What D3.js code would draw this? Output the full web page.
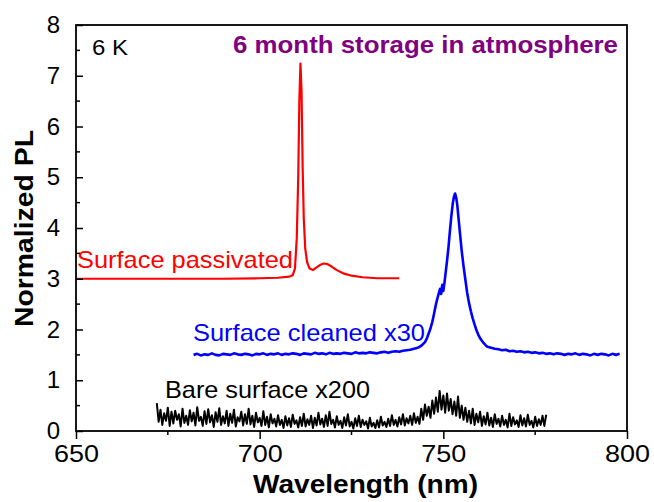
<!DOCTYPE html>
<html>
<head>
<meta charset="utf-8">
<script src="https://cdn.jsdelivr.net/npm/d3@7"></script>
<style>
    body { margin: 0; background: #fff; }
    text { font-family: "Liberation Sans", Arial, sans-serif; }
</style>
</head>
<body>
<div class="container"></div>
<script>
// surface passivated (red)
const redWl = [650, 660, 670, 680, 690, 700, 705, 708, 709, 709.6, 710.1, 710.5, 710.8, 711.1, 711.4, 711.7, 712.0, 712.4, 712.9, 713.6, 714.5, 715.4, 716.4, 717.4, 718.4, 719.6, 721, 723, 725, 728, 732, 738];
const redPL = [3.00, 3.00, 3.00, 3.00, 3.00, 3.01, 3.02, 3.04, 3.07, 3.2, 3.8, 5.0, 6.5, 7.24, 6.7, 5.2, 4.2, 3.6, 3.33, 3.2, 3.17, 3.22, 3.27, 3.30, 3.29, 3.24, 3.17, 3.1, 3.06, 3.03, 3.01, 3.01];

// surface cleaned x30 (blue)
const blueWl = [682, 683, 684, 685, 686, 687, 688, 689, 690, 691, 692, 693, 694, 695, 696, 697, 698, 699, 700, 701, 702, 703, 704, 705, 706, 707, 708, 709, 710, 711, 712, 713, 714, 715, 716, 717, 718, 719, 720, 721, 722, 723, 724, 725, 726, 727, 728, 729, 730, 731, 732, 733, 734, 735, 736, 737, 738, 739, 740, 741, 742, 743, 744, 745, 745.5, 746, 746.5, 747, 747.5, 748, 748.4, 748.8, 749.1, 749.4, 749.7, 750, 750.3, 750.6, 751, 751.4, 751.8, 752.2, 752.6, 752.9, 753.2, 753.5, 753.8, 754.1, 754.5, 755, 755.5, 756, 756.5, 757, 757.5, 758, 758.5, 759, 759.5, 760, 760.5, 761, 761.5, 762, 763, 764, 765, 766, 767, 768, 769, 770, 771, 772, 773, 774, 775, 776, 777, 778, 779, 780, 781, 782, 783, 784, 785, 786, 787, 788, 789, 790, 791, 792, 793, 794, 795, 796, 797, 798];
const bluePL = [1.50, 1.52, 1.49, 1.51, 1.50, 1.53, 1.50, 1.49, 1.52, 1.51, 1.50, 1.53, 1.51, 1.50, 1.52, 1.51, 1.49, 1.52, 1.51, 1.53, 1.50, 1.52, 1.51, 1.53, 1.50, 1.52, 1.51, 1.53, 1.52, 1.50, 1.53, 1.52, 1.51, 1.54, 1.52, 1.53, 1.51, 1.54, 1.52, 1.53, 1.52, 1.54, 1.53, 1.52, 1.55, 1.53, 1.54, 1.53, 1.55, 1.54, 1.53, 1.55, 1.56, 1.54, 1.56, 1.57, 1.56, 1.58, 1.59, 1.60, 1.62, 1.64, 1.68, 1.75, 1.82, 1.92, 2.02, 2.15, 2.32, 2.50, 2.62, 2.72, 2.80, 2.70, 2.88, 2.76, 2.92, 3.10, 3.35, 3.62, 3.95, 4.25, 4.50, 4.62, 4.68, 4.60, 4.45, 4.22, 3.92, 3.55, 3.25, 2.98, 2.72, 2.52, 2.36, 2.22, 2.10, 1.99, 1.90, 1.83, 1.78, 1.73, 1.69, 1.66, 1.64, 1.62, 1.61, 1.59, 1.60, 1.57, 1.58, 1.56, 1.57, 1.55, 1.56, 1.54, 1.55, 1.53, 1.54, 1.52, 1.53, 1.51, 1.53, 1.52, 1.50, 1.52, 1.51, 1.53, 1.50, 1.52, 1.51, 1.49, 1.52, 1.50, 1.52, 1.51, 1.49, 1.52, 1.50, 1.52];

// bare surface x200 (black), sampled every 0.5 nm from 672 nm
const bareStart = 672;
const bareStep = 0.5;
const barePL = [
    0.55, 0.18, 0.42, 0.12, 0.35, 0.20, 0.46, 0.10, 0.38, 0.15,
    0.40, 0.22, 0.33, 0.09, 0.44, 0.16, 0.30, 0.12, 0.41, 0.19,
    0.36, 0.11, 0.47, 0.20, 0.28, 0.10, 0.39, 0.14, 0.43, 0.17,
    0.31, 0.08, 0.37, 0.18, 0.45, 0.12, 0.29, 0.15, 0.40, 0.10,
    0.34, 0.16, 0.42, 0.09, 0.27, 0.19, 0.38, 0.11, 0.33, 0.14,
    0.44, 0.13, 0.30, 0.08, 0.36, 0.17, 0.26, 0.10, 0.39, 0.12,
    0.28, 0.07, 0.33, 0.15, 0.24, 0.09, 0.31, 0.12, 0.22, 0.06,
    0.29, 0.11, 0.25, 0.08, 0.32, 0.14, 0.21, 0.07, 0.27, 0.10,
    0.34, 0.09, 0.23, 0.12, 0.30, 0.06, 0.26, 0.11, 0.36, 0.13,
    0.24, 0.08, 0.31, 0.10, 0.38, 0.14, 0.22, 0.07, 0.29, 0.12,
    0.20, 0.06, 0.27, 0.11, 0.33, 0.09, 0.18, 0.05, 0.25, 0.10,
    0.30, 0.08, 0.22, 0.12, 0.19, 0.05, 0.26, 0.09, 0.16, 0.06,
    0.21, 0.07, 0.28, 0.11, 0.18, 0.08, 0.24, 0.10, 0.31, 0.12,
    0.22, 0.09, 0.27, 0.13, 0.33, 0.11, 0.25, 0.15, 0.30, 0.12,
    0.35, 0.16, 0.28, 0.14, 0.44, 0.22, 0.52, 0.30, 0.48, 0.26,
    0.60, 0.34, 0.66, 0.38, 0.79, 0.42, 0.70, 0.36, 0.74, 0.40,
    0.63, 0.33, 0.58, 0.30, 0.68, 0.26, 0.50, 0.22, 0.46, 0.18,
    0.40, 0.15, 0.44, 0.12, 0.34, 0.17, 0.38, 0.10, 0.29, 0.13,
    0.36, 0.11, 0.26, 0.08, 0.33, 0.14, 0.24, 0.09, 0.30, 0.12,
    0.22, 0.07, 0.34, 0.10, 0.27, 0.13, 0.21, 0.08, 0.31, 0.11,
    0.25, 0.09, 0.32, 0.12, 0.20, 0.07, 0.28, 0.10, 0.23, 0.12,
    0.30, 0.10, 0.32
];

const xTicks = [650, 700, 750, 800];
const yTicks = [0, 1, 2, 3, 4, 5, 6, 7, 8];

const width = 654;
const height = 502;
const plotLeft = 76, plotRight = 627, plotTop = 25, plotBottom = 431;

const svg = d3.select('.container').append('svg').attr('width', width).attr('height', height);
svg.append('rect').attr('width', width).attr('height', height).attr('fill', '#fff');

const x = d3.scaleLinear().domain([650, 800]).range([plotLeft, plotRight]);
const y = d3.scaleLinear().domain([0, 8]).range([plotBottom, plotTop]);

const line = d3.line().x(d => x(d[0])).y(d => y(d[1]));

const redData = redWl.map((w, i) => [w, redPL[i]]);
const blueData = blueWl.map((w, i) => [w, bluePL[i]]);
const bareData = barePL.map((v, i) => [bareStart + i * bareStep, v]);

svg.append('path').datum(bareData).attr('d', line)
    .attr('fill', 'none').attr('stroke', '#000').attr('stroke-width', 2).attr('stroke-linejoin', 'round');
svg.append('path').datum(blueData).attr('d', line)
    .attr('fill', 'none').attr('stroke', '#0000ff').attr('stroke-width', 2.6).attr('stroke-linejoin', 'round');
svg.append('path').datum(redData).attr('d', line)
    .attr('fill', 'none').attr('stroke', '#ff0000').attr('stroke-width', 2.2).attr('stroke-linejoin', 'round');

// axes: y ticks point inward, x ticks outward
const xAxis = svg.append('g').attr('transform', `translate(0,${plotBottom})`)
    .call(d3.axisBottom(x).tickValues(xTicks).tickSize(8).tickPadding(6).tickFormat(d3.format('d')));
xAxis.append('g').selectAll('line').data([675, 725, 775]).enter().append('line')
    .attr('x1', d => x(d)).attr('x2', d => x(d)).attr('y1', 0).attr('y2', 4).attr('stroke', '#000').attr('stroke-width', 1.5);

const yAxis = svg.append('g').attr('transform', `translate(${plotLeft},0)`)
    .call(d3.axisLeft(y).tickValues(yTicks).tickSize(-7).tickPadding(16).tickFormat(d3.format('d')));
yAxis.append('g').selectAll('line').data([0.5, 1.5, 2.5, 3.5, 4.5, 5.5, 6.5, 7.5]).enter().append('line')
    .attr('y1', d => y(d)).attr('y2', d => y(d)).attr('x1', 0).attr('x2', 4).attr('stroke', '#000').attr('stroke-width', 1.5);

svg.selectAll('.domain').remove();
svg.selectAll('.tick line').attr('stroke', '#000').attr('stroke-width', 1.5);
svg.selectAll('.tick text').attr('fill', '#000').style('font-size', '24px');
xAxis.selectAll('.tick text').attr('textLength', 45).attr('lengthAdjust', 'spacingAndGlyphs');

svg.append('rect').attr('x', plotLeft).attr('y', plotTop).attr('width', plotRight - plotLeft).attr('height', plotBottom - plotTop)
    .attr('fill', 'none').attr('stroke', '#000').attr('stroke-width', 1.8);

function label(txt, px, py, size, color, bold, len)
{
    let t = svg.append('text').attr('x', px).attr('y', py).text(txt)
        .attr('fill', color).style('font-size', size + 'px').style('font-weight', bold ? 'bold' : 'normal');
    if (len)
        t.attr('textLength', len).attr('lengthAdjust', 'spacingAndGlyphs');
    return t;
}

label('Wavelength (nm)', 253, 493, 25, '#000', true, 225);
label('Normalized PL', 0, 0, 25, '#000', true, 197)
    .attr('transform', 'translate(33,327) rotate(-90)');
label('6 K', 92, 55, 22, '#000', false, 36);
label('6 month storage in atmosphere', 233, 53, 23, '#800080', true, 385);
label('Surface passivated', 77, 268, 24, '#ff0000', false, 216);
label('Surface cleaned x30', 193, 341, 24, '#0000ff', false, 232);
label('Bare surface x200', 165, 398, 24, '#000', false, 205);
</script>
</body>
</html>
